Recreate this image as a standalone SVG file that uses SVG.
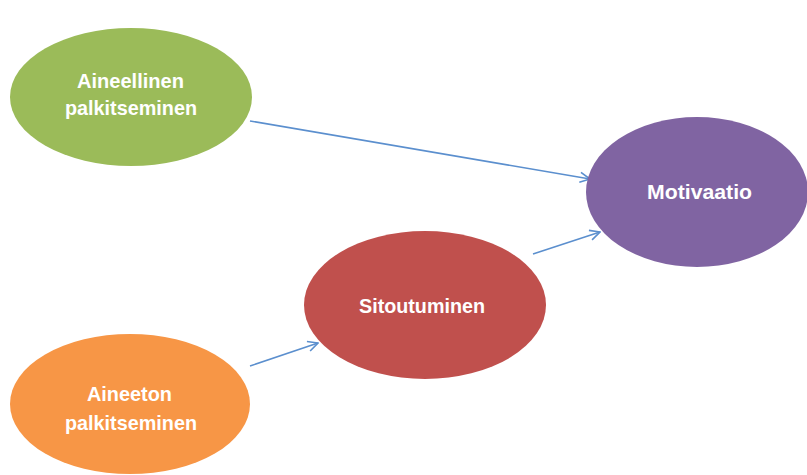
<svg xmlns="http://www.w3.org/2000/svg" width="807" height="475" viewBox="0 0 807 475">
<defs>
<style>
.lbl{font-family:"Liberation Sans",Arial,sans-serif;font-weight:bold;font-size:21px;fill:#ffffff}
.con{stroke:#5b8fce;stroke-width:1.6;fill:none;marker-end:url(#ah)}
</style>
<marker id="ah" viewBox="0 0 12 12" refX="11" refY="6" markerWidth="12" markerHeight="12" markerUnits="userSpaceOnUse" orient="auto">
<path d="M1,1 L11,6 L1,11" fill="none" stroke="#5b8fce" stroke-width="1.6"/>
</marker>
</defs>
<rect width="807" height="475" fill="#ffffff"/>
<g id="connectors">
<line class="con" x1="250" y1="121" x2="590" y2="179"/>
<line class="con" x1="533" y1="254" x2="600" y2="232"/>
<line class="con" x1="250" y1="366" x2="318" y2="343"/>
</g>
<g id="aineellinen">
<ellipse cx="131" cy="97" rx="121" ry="69" fill="#9bbb59"/>
<text class="lbl" x="77" y="88" textLength="107" lengthAdjust="spacingAndGlyphs">Aineellinen</text>
<text class="lbl" x="65" y="115" textLength="132" lengthAdjust="spacingAndGlyphs">palkitseminen</text>
</g>
<g id="motivaatio">
<ellipse cx="697" cy="192" rx="111" ry="75" fill="#8064a2"/>
<text class="lbl" x="647" y="199" textLength="105" lengthAdjust="spacingAndGlyphs">Motivaatio</text>
</g>
<g id="sitoutuminen">
<ellipse cx="425" cy="305" rx="121" ry="74" fill="#c0504d"/>
<text class="lbl" x="359" y="313" textLength="126" lengthAdjust="spacingAndGlyphs">Sitoutuminen</text>
</g>
<g id="aineeton">
<ellipse cx="130" cy="404" rx="120" ry="70" fill="#f79646"/>
<text class="lbl" x="87" y="401" textLength="85" lengthAdjust="spacingAndGlyphs">Aineeton</text>
<text class="lbl" x="65" y="430" textLength="132" lengthAdjust="spacingAndGlyphs">palkitseminen</text>
</g>
</svg>
